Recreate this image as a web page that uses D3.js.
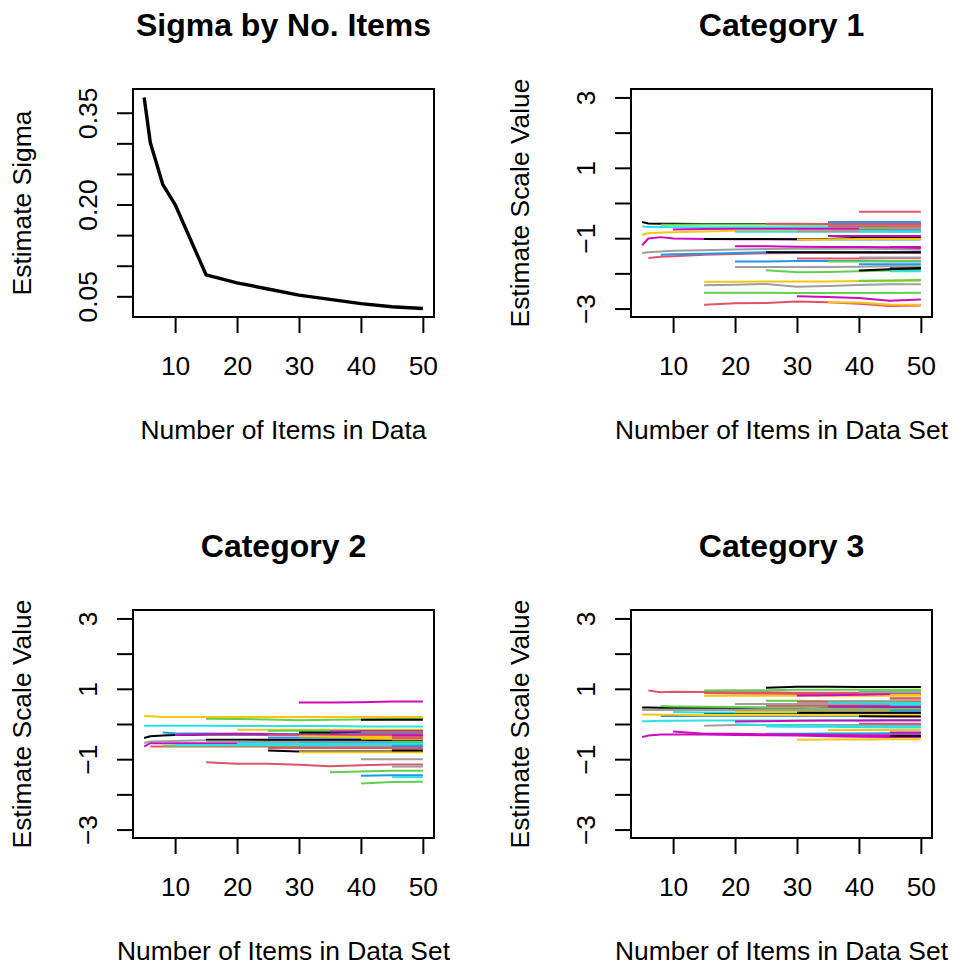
<!DOCTYPE html>
<html>
<head>
<meta charset="utf-8">
<script src="https://cdn.jsdelivr.net/npm/d3@7"></script>
<style>
  body { margin: 0; background: #fff; }
  svg { display: block; }
</style>
</head>
<body>
<div id="chart"></div>
<script>
// values; rows = items, columns = item counts (null = item not in that data set)
const _ = null;
const itemCounts = [5, 6, 8, 10, 15, 20, 25, 30, 35, 40, 45, 50];
const sigmaEstimates = [0.375, 0.301, 0.233, 0.200, 0.085, 0.072, 0.062, 0.052, 0.045, 0.038, 0.033, 0.030];

const xTicks = [10, 20, 30, 40, 50];
const sigmaTicks = [0.05, 0.10, 0.15, 0.20, 0.25, 0.30, 0.35];
const sigmaTickLabels = ["0.05", "0.20", "0.35"];
const scaleTicks = [-3, -2, -1, 0, 1, 2, 3];
const scaleTickLabels = [-3, -1, 1, 3];
const scaleLimits = [-3, 3];

const category1 = [
  [-0.54,-0.58,-0.59,-0.59,-0.60,-0.60,-0.60,-0.60,-0.60,-0.60,-0.60,-0.60],
  [_,-1.56,-1.53,-1.51,-1.47,-1.45,-1.43,-1.42,-1.42,-1.42,-1.42,-1.42],
  [_,_,-0.62,-0.62,-0.61,-0.61,-0.61,-0.62,-0.62,-0.62,-0.62,-0.62],
  [_,_,-1.47,-1.46,-1.44,-1.42,-1.40,-1.40,-1.40,-1.40,-1.40,-1.40],
  [-0.67,-0.68,-0.68,-0.69,-0.69,-0.69,-0.69,-0.69,-0.69,-0.69,-0.69,-0.69],
  [-1.20,-1.01,-0.97,-1.01,-1.02,-1.03,-1.03,-1.03,-1.03,-1.03,-1.03,-1.03],
  [-0.90,-0.86,-0.84,-0.83,-0.81,-0.79,-0.78,-0.78,-0.78,-0.78,-0.78,-0.78],
  [-1.42,-1.40,-1.38,-1.36,-1.34,-1.32,-1.31,-1.30,-1.30,-1.30,-1.31,-1.33],

  [_,_,_,_,-1.02,-1.02,-1.02,-1.03,-1.02,-0.99,-0.99,-0.99],
  [_,_,_,_,-2.89,-2.85,-2.84,-2.80,-2.82,-2.86,-2.93,-2.91],
  [_,_,_,_,-2.55,-2.55,-2.55,-2.56,-2.56,-2.56,-2.56,-2.55],
  [_,_,_,_,_,-1.66,-1.66,-1.65,-1.65,-1.65,-1.66,-1.66],
  [_,_,_,_,_,-0.82,-0.82,-0.82,-0.82,-0.82,-0.82,-0.82],
  [_,_,_,-0.75,-0.74,-0.73,-0.73,-0.73,-0.73,-0.73,-0.73,-0.73],
  [_,_,_,_,-2.24,-2.24,-2.23,-2.23,-2.23,-2.22,-2.21,-2.21],
  [_,_,_,_,-2.34,-2.32,-2.30,-2.38,-2.36,-2.33,-2.31,-2.31],

  [_,_,_,_,_,_,-1.40,-1.40,-1.40,-1.40,-1.40,-1.40],
  [_,_,_,_,_,_,-0.59,-0.59,-0.60,-0.60,-0.60,-0.60],
  [_,_,_,_,_,_,-1.91,-1.97,-1.96,-1.94,-1.92,-1.90],
  [_,_,_,_,_,_,_,_,-0.54,-0.54,-0.54,-0.54],
  [_,_,_,_,_,_,_,_,-1.04,-1.04,-1.04,-1.04],
  [_,_,_,_,_,-1.23,-1.23,-1.24,-1.25,-1.25,-1.26,-1.28],
  [_,_,_,_,_,_,_,_,-2.82,-2.83,-2.89,-2.89],
  [_,_,_,_,_,-1.82,-1.82,-1.82,-1.82,-1.81,-1.80,-1.80],

  [_,_,_,_,_,_,_,_,_,-1.92,-1.88,-1.85],
  [_,_,_,_,_,_,_,-1.58,-1.58,-1.58,-1.57,-1.57],
  [_,_,_,_,_,_,_,_,-1.66,-1.66,-1.65,-1.65],
  [_,_,_,_,_,_,_,_,_,-1.74,-1.74,-1.74],
  [_,_,_,_,_,_,_,_,_,_,-1.94,-1.94],
  [_,_,_,_,_,_,_,_,-0.94,-0.94,-0.94,-0.94],
  [_,_,_,_,_,_,_,-1.04,-1.04,-1.02,-1.02,-1.02],
  [_,_,_,_,_,_,_,-0.80,-0.80,-0.80,-0.80,-0.80],

  [_,_,_,_,_,_,_,_,_,_,-1.86,-1.86],
  [_,_,_,_,_,_,_,_,_,-0.25,-0.25,-0.25],
  [_,_,_,_,_,_,_,_,_,-2.21,-2.20,-2.19],
  [_,_,_,_,_,_,_,_,_,_,-0.80,-0.80],
  [_,_,_,_,_,_,_,_,_,-0.80,-0.80,-0.80],
  [_,_,_,_,_,_,_,-2.65,-2.67,-2.70,-2.78,-2.74],
  [_,_,_,_,_,_,_,_,_,_,-0.66,-0.66],
  [_,_,_,_,_,_,_,_,_,-1.55,-1.55,-1.55],

  [_,_,_,_,_,_,_,_,_,_,_,-1.10],
  [_,_,_,_,_,_,_,_,-0.66,-0.66,-0.66,-0.66],
  [_,_,_,_,_,_,_,_,_,-0.72,-0.72,-0.72],
  [_,_,_,_,_,_,_,_,_,_,_,-1.20],
  [_,_,_,_,_,_,_,_,_,_,_,-0.90],
  [_,_,_,_,_,_,_,_,_,_,-1.25,-1.25],
  [_,_,_,_,_,_,_,_,_,_,_,-0.70],
  [_,_,_,_,_,_,_,_,_,_,-0.72,-0.72]
];

const category2 = [
  [-0.40,-0.35,-0.33,-0.31,-0.30,-0.30,-0.30,-0.30,-0.30,-0.30,-0.30,-0.30],
  [_,-0.64,-0.64,-0.64,-0.64,-0.64,-0.64,-0.64,-0.65,-0.65,-0.65,-0.65],
  [_,_,-0.62,-0.62,-0.62,-0.61,-0.61,-0.61,-0.61,-0.61,-0.61,-0.61],
  [_,_,-0.24,-0.26,-0.27,-0.28,-0.28,-0.29,-0.29,-0.29,-0.29,-0.29],
  [-0.05,-0.05,-0.05,-0.05,-0.05,-0.06,-0.06,-0.06,-0.06,-0.07,-0.07,-0.07],
  [-0.64,-0.54,-0.55,-0.55,-0.55,-0.55,-0.55,-0.55,-0.56,-0.56,-0.56,-0.56],
  [0.23,0.22,0.20,0.20,0.20,0.20,0.20,0.20,0.20,0.20,0.20,0.20],
  [-0.54,-0.50,-0.49,-0.48,-0.46,-0.46,-0.47,-0.47,-0.47,-0.47,-0.47,-0.47],

  [_,_,_,_,-0.45,-0.45,-0.45,-0.45,-0.45,-0.45,-0.47,-0.47],
  [_,_,_,_,-1.09,-1.13,-1.13,-1.16,-1.20,-1.17,-1.15,-1.15],
  [_,_,_,_,0.15,0.14,0.13,0.11,0.12,0.13,0.14,0.14],
  [_,_,_,_,_,_,-0.39,-0.39,-0.39,-0.39,-0.39,-0.39],
  [_,_,_,-0.60,-0.60,-0.60,-0.60,-0.60,-0.61,-0.61,-0.61,-0.61],
  [_,_,_,-0.31,-0.29,-0.28,-0.29,-0.31,-0.31,-0.31,-0.31,-0.31],
  [_,_,_,_,_,-0.16,-0.16,-0.16,-0.16,-0.16,-0.16,-0.16],
  [_,_,_,_,-0.50,-0.50,-0.51,-0.51,-0.51,-0.51,-0.51,-0.51],

  [_,_,_,_,_,_,-0.75,-0.78,-0.78,-0.78,-0.78,-0.78],
  [_,_,_,_,_,_,-0.32,-0.32,-0.33,-0.33,-0.33,-0.33],
  [_,_,_,_,_,_,-0.19,-0.19,-0.19,-0.19,-0.19,-0.19],
  [_,_,_,_,_,_,_,-0.55,-0.55,-0.55,-0.55,-0.55],
  [_,_,_,_,_,-0.55,-0.56,-0.56,-0.56,-0.56,-0.56,-0.56],
  [_,_,_,_,_,_,_,0.61,0.61,0.62,0.64,0.64],
  [_,_,_,_,_,_,_,-0.35,-0.36,-0.37,-0.37,-0.37],
  [_,_,_,_,_,_,_,_,-0.62,-0.62,-0.62,-0.62],

  [_,_,_,_,_,_,_,-0.24,-0.24,-0.22,-0.22,-0.22],
  [_,_,_,_,_,_,-0.68,-0.68,-0.68,-0.68,-0.68,-0.68],
  [_,_,_,_,_,_,_,_,-1.37,-1.35,-1.33,-1.33],
  [_,_,_,_,_,_,_,_,_,-1.47,-1.46,-1.46],
  [_,_,_,_,_,_,_,_,-0.58,-0.58,-0.58,-0.58],
  [_,_,_,_,_,_,_,_,-0.21,-0.21,-0.21,-0.21],
  [_,_,_,_,_,_,_,-0.80,-0.80,-0.80,-0.80,-0.80],
  [_,_,_,_,_,_,_,_,_,-1.00,-1.00,-1.00],

  [_,_,_,_,_,_,_,_,_,0.12,0.12,0.12],
  [_,_,_,_,_,_,_,_,_,-0.23,-0.23,-0.23],
  [_,_,_,_,_,_,_,_,_,-1.69,-1.65,-1.64],
  [_,_,_,_,_,_,_,_,_,_,-0.62,-0.62],
  [_,_,_,_,_,_,_,_,_,_,-1.51,-1.51],
  [_,_,_,_,_,_,_,_,_,_,-0.33,-0.33],
  [_,_,_,_,_,_,_,_,_,-0.42,-0.42,-0.42],
  [_,_,_,_,_,_,_,_,_,_,-1.21,-1.21],

  [_,_,_,_,_,_,_,_,_,_,-0.75,-0.75],
  [_,_,_,_,_,_,_,_,_,_,-0.40,-0.40],
  [_,_,_,_,_,_,_,_,_,_,-0.50,-0.50],
  [_,_,_,_,_,_,_,_,_,_,_,-0.45],
  [_,_,_,_,_,_,_,_,_,_,_,-0.30],
  [_,_,_,_,_,_,_,_,_,_,_,-0.20],
  [_,_,_,_,_,_,_,_,_,_,_,-0.70],
  [_,_,_,_,_,_,_,_,_,_,_,-0.60]
];

const category3 = [
  [0.47,0.47,0.46,0.46,0.46,0.46,0.46,0.46,0.46,0.46,0.46,0.46],
  [_,0.95,0.90,0.92,0.91,0.90,0.90,0.89,0.89,0.89,0.89,0.89],
  [_,_,0.51,0.50,0.49,0.48,0.46,0.46,0.45,0.45,0.44,0.44],
  [_,_,0.23,0.23,0.23,0.23,0.23,0.23,0.23,0.23,0.23,0.23],
  [0.08,0.08,0.09,0.09,0.10,0.10,0.10,0.10,0.10,0.10,0.10,0.10],
  [-0.37,-0.33,-0.30,-0.30,-0.30,-0.31,-0.32,-0.33,-0.35,-0.36,-0.37,-0.37],
  [0.27,0.27,0.26,0.26,0.25,0.25,0.25,0.25,0.25,0.25,0.25,0.25],
  [0.40,0.40,0.40,0.40,0.40,0.40,0.40,0.40,0.40,0.40,0.40,0.40],

  [_,_,_,_,0.31,0.31,0.31,0.31,0.31,0.31,0.31,0.31],
  [_,_,_,_,0.88,0.87,0.86,0.85,0.85,0.85,0.85,0.85],
  [_,_,_,_,0.95,0.96,0.96,0.97,0.97,0.97,0.97,0.97],
  [_,_,_,_,_,_,-0.28,-0.28,-0.27,-0.27,-0.26,-0.26],
  [_,_,_,0.34,0.33,0.33,0.33,0.33,0.33,0.33,0.33,0.33],
  [_,_,_,-0.21,-0.28,-0.28,-0.29,-0.30,-0.31,-0.32,-0.32,-0.32],
  [_,_,_,_,0.80,0.80,0.80,0.80,0.80,0.80,0.80,0.80],
  [_,_,_,_,-0.05,-0.03,-0.03,-0.03,-0.03,-0.03,-0.03,-0.03],

  [_,_,_,_,_,_,1.03,1.06,1.06,1.05,1.05,1.05],
  [_,_,_,_,_,_,0.52,0.52,0.52,0.52,0.52,0.52],
  [_,_,_,_,_,_,0.66,0.66,0.65,0.65,0.65,0.65],
  [_,_,_,_,_,_,_,_,0.31,0.31,0.31,0.31],
  [_,_,_,_,_,-0.01,-0.03,-0.04,-0.05,-0.06,-0.07,-0.07],
  [_,_,_,_,_,0.07,0.08,0.09,0.10,0.10,0.11,0.11],
  [_,_,_,_,_,0.34,0.34,0.34,0.34,0.34,0.34,0.34],
  [_,_,_,_,_,0.57,0.57,0.57,0.57,0.57,0.57,0.57],

  [_,_,_,_,_,_,_,0.32,0.32,0.32,0.32,0.32],
  [_,_,_,_,_,_,_,0.63,0.63,0.63,0.63,0.63],
  [_,_,_,_,_,_,_,_,_,0.93,0.93,0.93],
  [_,_,_,_,_,_,_,_,_,0.51,0.51,0.51],
  [_,_,_,_,_,_,-0.07,-0.08,-0.08,-0.09,-0.10,-0.10],
  [_,_,_,_,_,_,_,0.81,0.82,0.83,0.85,0.85],
  [_,_,_,_,_,_,_,-0.45,-0.44,-0.44,-0.43,-0.43],
  [_,_,_,_,_,_,_,_,_,0.90,0.90,0.90],

  [_,_,_,_,_,_,_,_,_,0.22,0.21,0.21],
  [_,_,_,_,_,_,_,_,_,0.01,0.01,0.01],
  [_,_,_,_,_,_,_,_,_,_,0.58,0.58],
  [_,_,_,_,_,_,_,_,_,_,0.38,0.38],
  [_,_,_,_,_,_,_,_,0.61,0.61,0.61,0.60],
  [_,_,_,_,_,_,_,_,0.50,0.50,0.50,0.50],
  [_,_,_,_,_,_,_,_,-0.17,-0.17,-0.17,-0.17],
  [_,_,_,_,_,_,_,_,_,_,0.74,0.74],

  [_,_,_,_,_,_,_,_,_,_,-0.34,-0.34],
  [_,_,_,_,_,_,_,_,_,_,0.72,0.72],
  [_,_,_,_,_,_,_,_,_,_,_,0.70],
  [_,_,_,_,_,_,_,_,_,_,_,0.20],
  [_,_,_,_,_,_,_,_,_,_,0.55,0.55],
  [_,_,_,_,_,_,_,_,_,_,-0.24,-0.24],
  [_,_,_,_,_,_,_,_,_,_,0.83,0.83],
  [_,_,_,_,_,_,_,_,_,_,_,0.15]
];

// R 4.x default palette, recycled over columns like matplot
const palette = ["#000000", "#DF536B", "#61D04F", "#2297E6", "#28E2E5", "#CD0BBC", "#F5C710", "#9E9E9E"];

const W = 954, H = 967;
const FONT = "'Liberation Sans', Arial, Helvetica, sans-serif";
const AXIS_FS = 26.4, TITLE_FS = 32;

const svg = d3.select("#chart").append("svg")
  .attr("width", W).attr("height", H)
  .style("background", "#fff");

// R-style 4% axis expansion
function expand([a, b]) {
  const d = (b - a) * 0.04;
  return [a - d, b + d];
}

const xDomain = expand(d3.extent(itemCounts));

const panels = [
  {box: {l: 133, r: 434, t: 89, b: 317}, title: "Sigma by No. Items",
   xlab: "Number of Items in Data", ylab: "Estimate Sigma",
   yDomain: expand(d3.extent(sigmaEstimates)), yTicks: sigmaTicks,
   yFmt: d => { const s = d3.format(".2f")(d); return sigmaTickLabels.includes(s) ? s : ""; },
   series: [sigmaEstimates], lw: 3.4, single: true},
  {box: {l: 631, r: 932, t: 89, b: 317}, title: "Category 1",
   xlab: "Number of Items in Data Set", ylab: "Estimate Scale Value",
   yDomain: expand(scaleLimits), yTicks: scaleTicks,
   yFmt: d => scaleTickLabels.includes(d) ? d3.format("d")(d) : "",
   series: category1, lw: 2},
  {box: {l: 133, r: 434, t: 610, b: 838}, title: "Category 2",
   xlab: "Number of Items in Data Set", ylab: "Estimate Scale Value",
   yDomain: expand(scaleLimits), yTicks: scaleTicks,
   yFmt: d => scaleTickLabels.includes(d) ? d3.format("d")(d) : "",
   series: category2, lw: 2},
  {box: {l: 631, r: 932, t: 610, b: 838}, title: "Category 3",
   xlab: "Number of Items in Data Set", ylab: "Estimate Scale Value",
   yDomain: expand(scaleLimits), yTicks: scaleTicks,
   yFmt: d => scaleTickLabels.includes(d) ? d3.format("d")(d) : "",
   series: category3, lw: 2}
];

panels.forEach(p => {
  const {l, r, t, b} = p.box;
  const x = d3.scaleLinear().domain(xDomain).range([l, r]);
  const y = d3.scaleLinear().domain(p.yDomain).range([b, t]);
  const g = svg.append("g");

  // series
  const line = d3.line()
    .defined(d => d != null)
    .x((d, i) => x(itemCounts[i]))
    .y(d => y(d));

  g.append("g")
    .selectAll("path")
    .data(p.series)
    .join("path")
    .attr("d", line)
    .attr("fill", "none")
    .attr("stroke", (d, i) => p.single ? "#000" : palette[i % palette.length])
    .attr("stroke-width", p.lw)
    .attr("stroke-linejoin", "round");

  // x axis
  const gx = g.append("g")
    .attr("transform", `translate(0,${b})`)
    .call(d3.axisBottom(x).tickValues(xTicks).tickFormat(d3.format("d"))
      .tickSize(16).tickSizeOuter(0).tickPadding(23.5));
  gx.select(".domain").remove();
  gx.selectAll("line").attr("stroke-width", 2);
  gx.selectAll("text").attr("font-size", AXIS_FS).attr("font-family", FONT).attr("fill", "#000");

  // y axis, labels parallel to the axis like R's las = 0
  const gy = g.append("g")
    .attr("transform", `translate(${l},0)`)
    .call(d3.axisLeft(y).tickValues(p.yTicks).tickFormat(p.yFmt)
      .tickSize(16).tickSizeOuter(0));
  gy.select(".domain").remove();
  gy.selectAll("line").attr("stroke-width", 2);
  gy.selectAll("text")
    .attr("x", null).attr("dy", null)
    .attr("text-anchor", "middle")
    .attr("transform", "translate(-36.5,0) rotate(-90)")
    .attr("font-size", AXIS_FS).attr("font-family", FONT).attr("fill", "#000");

  // box
  g.append("rect")
    .attr("x", l).attr("y", t)
    .attr("width", r - l).attr("height", b - t)
    .attr("fill", "none").attr("stroke", "#000").attr("stroke-width", 2);

  // titles
  g.append("text")
    .attr("x", (l + r) / 2).attr("y", t - 53)
    .attr("text-anchor", "middle")
    .attr("font-family", FONT).attr("font-size", TITLE_FS).attr("font-weight", "bold")
    .text(p.title);

  g.append("text")
    .attr("x", (l + r) / 2).attr("y", b + 121.5)
    .attr("text-anchor", "middle")
    .attr("font-family", FONT).attr("font-size", AXIS_FS)
    .text(p.xlab);

  g.append("text")
    .attr("transform", `translate(${l - 102},${(t + b) / 2}) rotate(-90)`)
    .attr("text-anchor", "middle")
    .attr("font-family", FONT).attr("font-size", AXIS_FS)
    .text(p.ylab);
});
</script>
</body>
</html>
